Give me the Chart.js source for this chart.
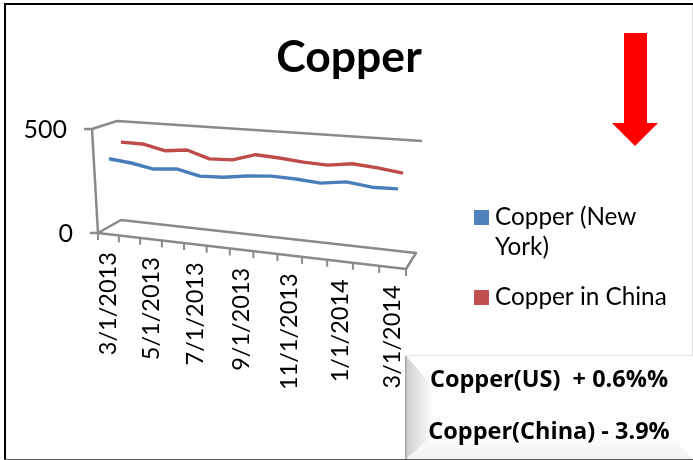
<!DOCTYPE html>
<html>
<head>
<meta charset="utf-8">
<style>html,body{margin:0;padding:0;background:#fff;overflow:hidden}canvas{display:block}</style>
<script src="https://cdn.jsdelivr.net/npm/chart.js@4"></script>
</head>
<body>
<canvas id="c" width="693" height="460"></canvas>
<script>
const categories = ['3/1/2013','4/1/2013','5/1/2013','6/1/2013','7/1/2013','8/1/2013','9/1/2013','10/1/2013','11/1/2013','12/1/2013','1/1/2014','2/1/2014','3/1/2014'];
const copperNewYork = [349,337,317,327,302,306,321,330,326,317,332,318,320];
const copperChina = [408,407,382,394,360,364,397,390,380,375,390,380,366];
const seriesNames = ['Copper (New York)','Copper in China'];
const yTicks = [0,500];
const calloutLines = ['Copper(US)  + 0.6%%','Copper(China) - 3.9%'];

const FONT = 'Lato, "Open Sans", sans-serif';
const NOTE_FONT = '"Open Sans", sans-serif';
const GREY = '#8a8a8a';
const COLORS = ['#4A7EBB','#BE4B48'];
const SWATCH = ['#4F81BD','#C0504D'];

/* Oblique view of the plot: planes of the box and the plane each series lies in */
const persp = -0.1277, seriesPersp = -0.085;
const floorFront = [[98,233],[406,269]], floorBack = [[121,220],[416,253]], topBack = [[117,121],[422,141]];
const planes = [
  {base:[[109,230.6],[398,263.8]], top:[[109,127.6],[398,146.8]]},
  {base:[[121,223.7],[403,255.8]], top:[[121,123.7],[403,142.8]]}
];
function along(seg,c,u){
  const w=1+c*u, f=i=>(seg[0][i]+(seg[1][i]*(1+c)-seg[0][i])*u)/w;
  return [f(0),f(1)];
}
function planePoint(pl,u,v){
  const a=along(pl.base,seriesPersp,u), b=along(pl.top,seriesPersp,u);
  return [a[0]+(b[0]-a[0])*v, a[1]+(b[1]-a[1])*v];
}
function poly(ctx,pts){ctx.beginPath();pts.forEach((p,i)=>i?ctx.lineTo(p[0],p[1]):ctx.moveTo(p[0],p[1]));}

const view = {
  id:'view',
  afterDatasetsUpdate(chart){
    const xs=chart.scales.x, ys=chart.scales.y;
    chart.data.datasets.forEach((ds,di)=>{
      chart.getDatasetMeta(di).data.forEach((pt,i)=>{
        const u=(xs.getPixelForValue(i)-xs.left)/xs.width;
        const v=(ys.bottom-ys.getPixelForValue(ds.data[i]))/ys.height;
        const p=planePoint(planes[di],u,v);
        pt.x=p[0]; pt.y=p[1];
      });
    });
  },
  beforeDatasetsDraw(chart){
    const ctx=chart.ctx, xs=chart.scales.x, ys=chart.scales.y;
    ctx.save();
    /* frame */
    ctx.fillStyle='#000'; ctx.fillRect(4,3,689,2); ctx.fillRect(4,3,2,457);
    ctx.fillStyle='#555'; ctx.fillRect(4,459,689,1);
    ctx.fillStyle='#ddd'; ctx.fillRect(692,5,1,455);
    /* box */
    ctx.strokeStyle=GREY; ctx.lineWidth=2.5; ctx.lineJoin='round';
    const tl=[92,129], bl=floorFront[0];
    poly(ctx,[[84,129],tl,topBack[0],topBack[1]]); ctx.stroke();
    poly(ctx,[tl,bl]); ctx.stroke();
    poly(ctx,[[90,233],bl,floorFront[1],floorBack[1],floorBack[0],bl]); ctx.stroke();
    ctx.lineWidth=2;
    const n=categories.length;
    for(let k=0;k<=n;k++){
      const p=along(floorFront,persp,k/n);
      poly(ctx,[p,[p[0],p[1]+7]]); ctx.stroke();
    }
    /* value axis labels */
    ctx.fillStyle='#000'; ctx.textAlign='right'; ctx.textBaseline='middle';
    ctx.font='25px '+FONT;
    ys.ticks.forEach(t=>{
      const v=(ys.bottom-ys.getPixelForValue(t.value))/ys.height;
      const x=bl[0]+(tl[0]-bl[0])*v-25, y=bl[1]+(tl[1]-bl[1])*v+1;
      ctx.fillText(t.label,x,y);
    });
    /* category axis labels */
    ctx.font='23.5px '+FONT;
    xs.ticks.forEach((t,i)=>{
      if(!t.label) return;
      const p=along(floorFront,persp,(i+.5)/n);
      ctx.save();
      ctx.translate(p[0],p[1]+18);
      ctx.rotate(-Math.PI/2);
      ctx.textAlign='right'; ctx.textBaseline='middle';
      ctx.fillText(t.label,0,0);
      ctx.restore();
    });
    ctx.restore();
  },
  afterDraw(chart){
    const ctx=chart.ctx;
    ctx.save();
    /* legend */
    ctx.font='24.3px '+FONT; ctx.textAlign='left'; ctx.textBaseline='alphabetic';
    let y=225;
    chart.data.datasets.forEach((ds,i)=>{
      const words=ds.label.split(' '), lines=[]; let cur='';
      words.forEach(w=>{
        const t=cur?cur+' '+w:w;
        if(ctx.measureText(t).width>176&&cur){lines.push(cur);cur=w;} else cur=t;
      });
      lines.push(cur);
      ctx.fillStyle=SWATCH[i]; ctx.fillRect(474,y-15,15,15);
      ctx.fillStyle='#000';
      lines.forEach((l,j)=>ctx.fillText(l,495,y+j*30));
      y+=(lines.length-1)*30+50;
    });
    /* arrow */
    ctx.fillStyle='#FF0000';
    poly(ctx,[[624,33],[647,33],[647,123],[658,123],[635,146],[612,123],[624,123]]);
    ctx.closePath(); ctx.fill();
    /* bevelled note */
    const L=405,T=355,R=693,B=460, iL=432,iT=385,iB=436,iR=672;
    ctx.fillStyle='#fdfdfd'; ctx.fillRect(L,T,R-L,B-T);
    let g=ctx.createLinearGradient(L,0,iL,0); g.addColorStop(0,'#cdcdcd'); g.addColorStop(1,'#fbfbfb');
    ctx.fillStyle=g; poly(ctx,[[L,T],[iL,iT],[iL,iB],[L,B]]); ctx.closePath(); ctx.fill();
    g=ctx.createLinearGradient(0,iB,0,B); g.addColorStop(0,'#fcfcfc'); g.addColorStop(1,'#f2f2f2');
    ctx.fillStyle=g; poly(ctx,[[L,B],[iL,iB],[iR,iB],[R,B]]); ctx.closePath(); ctx.fill();
    ctx.fillStyle='#a8a8a8'; ctx.fillRect(L,T,1.5,B-T);
    ctx.fillStyle='#e6e6e6'; ctx.fillRect(L,T,R-L,1);
    ctx.fillStyle='#555'; ctx.fillRect(L,459,R-L,1);
    ctx.fillStyle='#000'; ctx.font='bold 23.5px '+NOTE_FONT; ctx.textAlign='center'; ctx.textBaseline='middle';
    ctx.fillText(calloutLines[0],549,380);
    ctx.fillText(calloutLines[1],549,432);
    ctx.restore();
  }
};

new Chart(document.getElementById('c'),{
  type:'line',
  data:{
    labels:categories,
    datasets:[
      {label:seriesNames[0],data:copperNewYork,borderColor:COLORS[0],backgroundColor:COLORS[0],borderWidth:3.4,pointRadius:0,tension:0,fill:false,borderJoinStyle:'round'},
      {label:seriesNames[1],data:copperChina,borderColor:COLORS[1],backgroundColor:COLORS[1],borderWidth:3.4,pointRadius:0,tension:0,fill:false,borderJoinStyle:'round'}
    ]
  },
  options:{
    responsive:false,
    animation:false,
    events:[],
    layout:{padding:{left:5,top:8}},
    scales:{
      x:{type:'category',display:false,offset:false,ticks:{autoSkip:false,callback(v,i){return i%2===0?categories[i]:'';}}},
      y:{type:'linear',display:false,min:yTicks[0],max:yTicks[1],ticks:{stepSize:yTicks[1]}}
    },
    plugins:{
      legend:{display:false},
      tooltip:{enabled:false},
      title:{display:true,text:'Copper',color:'#000',font:{family:FONT,size:44.5,weight:'bold'},padding:{top:23,bottom:0}}
    }
  },
  plugins:[view]
});
</script>
</body>
</html>
